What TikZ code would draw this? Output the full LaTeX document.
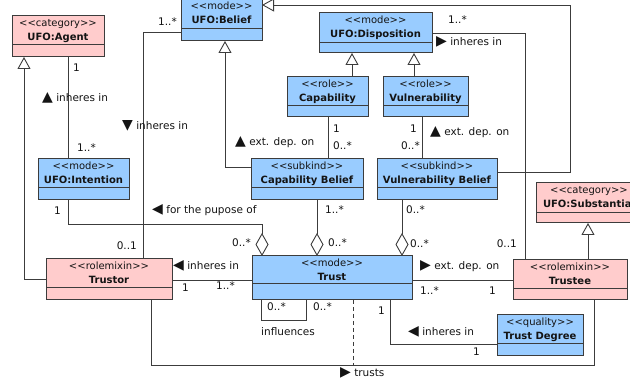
\documentclass[tikz,border=0pt]{standalone}
\usepackage{fontspec}
\setmainfont{DejaVu Sans}[Ligatures=TeXOff]
\usetikzlibrary{arrows.meta,calc}
\definecolor{umlblue}{RGB}{153,204,255}
\definecolor{umlpink}{RGB}{255,204,204}
\definecolor{umlline}{RGB}{60,60,60}
\definecolor{umltext}{RGB}{20,20,20}
\tikzset{
  boxshape/.style={rectangle, draw=umlline, line width=1pt, inner sep=0pt, outer sep=0pt},
  boxedge/.style={draw=umlline, line width=1pt},
  boxtext/.style={inner sep=0pt, anchor=mid, text=umltext, font=\fontsize{10}{12}\selectfont},
  conn/.style={draw=umlline, line width=0.9pt},
  gen/.style={conn, -{Triangle[open, length=12pt, width=13pt, fill=white]}},
  agg/.style={conn, -{Diamond[open, length=23pt, width=13pt, fill=white]}},
  lab/.style={inner sep=0pt, text=umltext, font=\fontsize{10.5}{12}\selectfont},
}
\newcommand\tri[1]{{\fontsize{14}{14}\selectfont #1}}
\newcommand\umlbox[9]{%
  \node[boxshape, fill=#7, minimum width={((#4)-(#2))*1pt}, minimum height={((#5)-(#3))*1pt}, anchor=north west] (#1) at (#2,#3) {};
  \draw[boxedge] (#1.west |- 0,#6) -- (#1.east |- 0,#6);
  \node[boxtext] (#1-st) at ($(#1.north)+(0,8)$) {<\kern0pt<#8>\kern0pt>};
  \node[boxtext, font=\fontsize{10}{12}\selectfont\bfseries] (#1-nm) at ($(#1.north)+(0,22)$) {#9};
}
\begin{document}
\begin{tikzpicture}[x=1pt, y=-1pt]
\useasboundingbox (0,0) rectangle (630,379);
\clip (0,0) rectangle (630,379);
\fill[white] (0,0) rectangle (630,379);

% boxes
\umlbox{Agent}{12}{16}{104}{57}{45}{umlpink}{category}{UFO:Agent}
\umlbox{Belief}{181}{-1}{262}{41}{29}{umlblue}{mode}{UFO:Belief}
\umlbox{Disposition}{319}{13}{432}{53}{43}{umlblue}{mode}{UFO:Disposition}
\umlbox{Capability}{287}{77}{368}{117}{106}{umlblue}{role}{Capability}
\umlbox{Vulnerability}{383}{77}{468}{117}{106}{umlblue}{role}{Vulnerability}
\umlbox{Intention}{38}{159}{129}{200}{188}{umlblue}{mode}{UFO:Intention}
\umlbox{CapBel}{251}{159}{363}{200}{188}{umlblue}{subkind}{Capability Belief}
\umlbox{VulBel}{377}{159}{497}{200}{188}{umlblue}{subkind}{Vulnerability Belief}
\umlbox{Substantial}{536}{183}{642}{223}{213}{umlpink}{category}{UFO:Substantial}
\umlbox{Trustor}{46}{259}{172}{300}{288}{umlpink}{rolemixin}{Trustor}
\umlbox{Trust}{252}{256}{412}{300}{284}{umlblue}{mode}{Trust}
\umlbox{Trustee}{513}{260}{627}{300}{289}{umlpink}{rolemixin}{Trustee}
\umlbox{TrustDeg}{497}{315}{583}{356}{344}{umlblue}{quality}{Trust Degree}

% bend coordinates
\coordinate (vbend) at (570,5);
\coordinate (ibend) at (262,224);
\coordinate (tbend) at (594,365);
\coordinate (tmid) at (353,365);

% connectors
\draw[conn] (Agent.south -| 68,0) -- (Intention.north -| 68,0);
\draw[conn] (Trustor.north -| 143,0) |- (Belief.west |- 0,32);
\draw[gen] (Trustor.west |- 0,279) -| (Agent.south -| 24,0);
\draw[gen] (CapBel.west |- 0,167) -| (Belief.south -| 225,0);
\draw[gen] (VulBel.east |- 0,172) -| (vbend) -- (Belief.east |- 0,5);
\draw[gen] (Capability.north -| 352,0) -- (Disposition.south -| 352,0);
\draw[gen] (Vulnerability.north -| 414,0) -- (Disposition.south -| 414,0);
\draw[conn] (Disposition.east |- 0,33) -| (Trustee.north -| 525,0);
\draw[conn] (Capability.south -| 328,0) -- (CapBel.north -| 328,0);
\draw[conn] (Vulnerability.south -| 422,0) -- (VulBel.north -| 422,0);
\draw[agg] (Intention.south -| 68,0) |- (ibend) -- (Trust.north -| ibend);
\draw[agg] (CapBel.south -| 317,0) -- (Trust.north -| 317,0);
\draw[agg] (VulBel.south -| 402,0) -- (Trust.north -| 402,0);
\draw[conn] (Trustor.east |- 0,280) -- (Trust.west |- 0,280);
\draw[conn] (Trust.east |- 0,280) -- (Trustee.west |- 0,280);
\draw[conn] (Trust.south -| 261,0) -- ++(0,20) -| (Trust.south -| 306,0);
\draw[conn] (Trust.south -| 390,0) |- (TrustDeg.west |- 0,344);
\draw[conn] (Trustor.south -| 151,0) |- (tbend) -- (Trustee.south -| tbend);
\draw[conn, dash pattern=on 4pt off 3pt] (Trust.south -| tmid) -- (tmid);
\draw[gen] (Trustee.north -| 588,0) -- (Substantial.south -| 588,0);

% labels
\node[lab, anchor=mid west] (l1) at (73,69) {1};
\node[lab, anchor=mid west] (l2) at (42,99) {\tri{▲} inheres in};
\node[lab, anchor=mid west] (l3) at (77,149) {1..*};
\node[lab, anchor=mid west] (l4) at (122,127) {\tri{▼} inheres in};
\node[lab, anchor=mid east] (l5) at (137,247) {0..1};
\node[lab, anchor=mid east] (l6) at (177,23) {1..*};
\node[lab, anchor=mid west] (l7) at (448,21) {1..*};
\node[lab, anchor=mid west] (l8) at (436,43) {\tri{▶} inheres in};
\node[lab, anchor=mid east] (l9) at (517,245) {0..1};
\node[lab, anchor=mid west] (l10) at (333,130) {1};
\node[lab, anchor=mid west] (l11) at (333,147) {0..*};
\node[lab, anchor=mid west] (l12) at (235,143) {\tri{▲} ext. dep. on};
\node[lab, anchor=mid east] (l13) at (417,130) {1};
\node[lab, anchor=mid east] (l14) at (420,147) {0..*};
\node[lab, anchor=mid west] (l15) at (430,133) {\tri{▲} ext. dep. on};
\node[lab, anchor=mid east] (l16) at (61,212) {1};
\node[lab, anchor=mid west] (l17) at (152,211) {\tri{◀} for the pupose of};
\node[lab, anchor=mid east] (l18) at (251,244) {0..*};
\node[lab, anchor=mid west] (l19) at (325,211) {1..*};
\node[lab, anchor=mid west] (l20) at (328,244) {0..*};
\node[lab, anchor=mid west] (l21) at (406,211) {0..*};
\node[lab, anchor=mid west] (l22) at (410,245) {0..*};
\node[lab, anchor=mid west] (l23) at (173,267) {\tri{◀} inheres in};
\node[lab, anchor=mid west] (l24) at (182,289) {1};
\node[lab, anchor=mid east] (l25) at (235,287) {1..*};
\node[lab, anchor=mid west] (l26) at (420,267) {\tri{▶} ext. dep. on};
\node[lab, anchor=mid west] (l27) at (420,292) {1..*};
\node[lab, anchor=mid east] (l28) at (496,292) {1};
\node[lab, anchor=mid west] (l29) at (267,308) {0..*};
\node[lab, anchor=mid west] (l30) at (313,308) {0..*};
\node[lab, anchor=mid west] (l31) at (261,333) {influences};
\node[lab, anchor=mid east] (l32) at (385,312) {1};
\node[lab, anchor=mid west] (l33) at (408,333) {\tri{◀} inheres in};
\node[lab, anchor=mid east] (l34) at (480,353) {1};
\node[lab, anchor=mid west] (l35) at (340,374) {\tri{▶} trusts};
\end{tikzpicture}
\end{document}
